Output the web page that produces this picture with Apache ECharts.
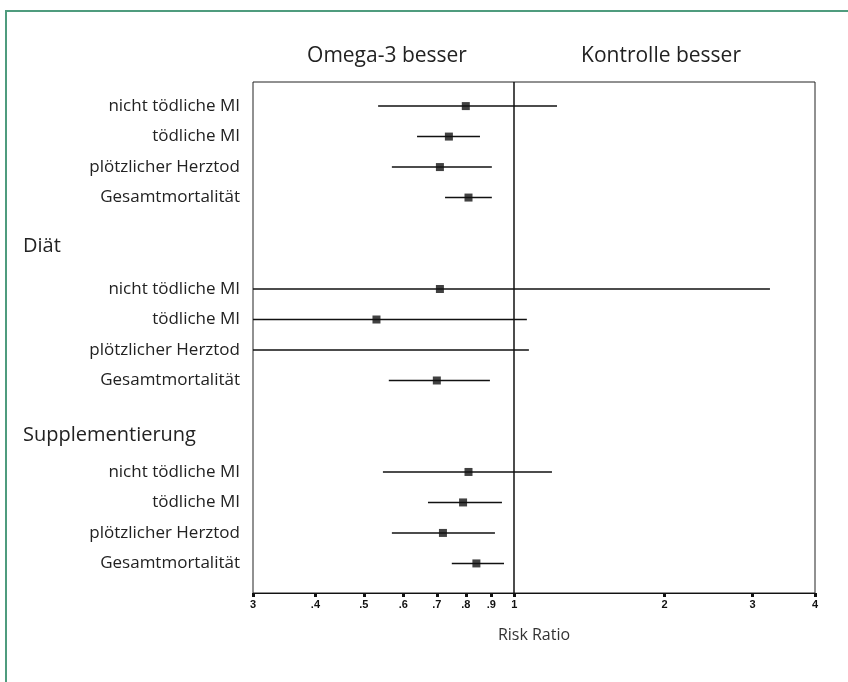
<!DOCTYPE html>
<html>
<head>
<meta charset="utf-8">
<script src="https://cdn.jsdelivr.net/npm/echarts@6/dist/echarts.min.js"></script>
<style>
html,body{margin:0;padding:0;background:#fff;}
#chart{width:848px;height:682px;}
</style>
</head>
<body>
<div id="chart"></div>
<script>
// Row labels and positions (row index from top)
const rowLabels = ["nicht tödliche MI","tödliche MI","plötzlicher Herztod","Gesamtmortalität",
                   "nicht tödliche MI","tödliche MI","plötzlicher Herztod","Gesamtmortalität",
                   "nicht tödliche MI","tödliche MI","plötzlicher Herztod","Gesamtmortalität"];
const rowPos = [0,1,2,3, 6,7,8,9, 12,13,14,15];
// Group headers
const groupLabels = ["Diät","Supplementierung"];
const groupPos = [4.6, 10.8];
// Risk ratio point estimates and confidence limits
const rr = [0.80,0.74,0.71,0.81, 0.71,0.53,null,0.70, 0.81,0.79,0.72,0.84];
const lo = [0.534,0.639,0.569,0.727, 0.30,0.30,0.30,0.561, 0.546,0.672,0.569,0.75];
const hi = [1.218,0.854,0.902,0.902, 3.25,1.06,1.07,0.894, 1.19,0.945,0.915,0.954];
// X axis ticks
const xTicks = [0.3,0.4,0.5,0.6,0.7,0.8,0.9,1,2,3,4];
const xTickLabels = ["3",".4",".5",".6",".7",".8",".9","1","2","3","4"];
// Direction captions above the plot
const captions = ["Omega-3 besser","Kontrolle besser"];

const ciData = rowPos.map((p,i)=>[lo[i],hi[i],p]);
const ptData = rowPos.map((p,i)=> rr[i]==null ? null : [rr[i],p]).filter(d=>d);

const chart = echarts.init(document.getElementById('chart'));
const FONT = '"Open Sans", "Noto Sans", sans-serif';
chart.setOption({
  animation:false,
  backgroundColor:'#fff',
  graphic:[
    {type:'rect', shape:{x:6,y:11,width:900,height:720}, style:{fill:'none',stroke:'#4f9c7e',lineWidth:2}},
    {type:'text', x:387, y:56, style:{text:captions[0], font:'21px '+FONT, fill:'#222', textAlign:'center', textVerticalAlign:'middle'}},
    {type:'text', x:661, y:56, style:{text:captions[1], font:'21px '+FONT, fill:'#222', textAlign:'center', textVerticalAlign:'middle'}}
  ],
  grid:{left:253, right:33, top:82, bottom:89, show:true, borderColor:'#222', borderWidth:1, backgroundColor:'transparent'},
  xAxis:{
    type:'log', min:0.3, max:4, logBase:10,
    axisLine:{onZero:false, lineStyle:{color:'#111',width:1.2}},
    splitLine:{show:false},
    axisTick:{customValues:xTicks, length:4, lineStyle:{color:'#111',width:3}},
    minorTick:{show:false},
    axisLabel:{customValues:xTicks, margin:6, color:'#111', fontSize:11, fontWeight:'bold', fontFamily:'Arial, "Liberation Sans", sans-serif',
      formatter:(v)=>{const i=xTicks.findIndex(t=>Math.abs(t-v)<1e-6);return i>=0?xTickLabels[i]:'';}},
    name:'Risk Ratio', nameLocation:'middle', nameGap:34,
    nameTextStyle:{fontSize:16, color:'#333', fontFamily:FONT}
  },
  yAxis:[{
    type:'value', inverse:true, min:-0.79, max:15.97,
    axisLine:{show:false}, axisTick:{show:false}, splitLine:{show:false},
    axisLabel:{customValues:rowPos, margin:13, color:'#222', fontSize:17, fontFamily:FONT,
      formatter:(v)=>{const i=rowPos.findIndex(t=>Math.abs(t-v)<1e-6);return i>=0?rowLabels[i]:'';}}
  },{
    type:'value', inverse:true, min:-0.79, max:15.97, position:'left',
    axisLine:{show:false}, axisTick:{show:false}, splitLine:{show:false},
    axisLabel:{customValues:groupPos, margin:230, align:'left', color:'#222', fontSize:20, fontFamily:FONT,
      formatter:(v)=>{const i=groupPos.findIndex(t=>Math.abs(t-v)<1e-6);return i>=0?groupLabels[i]:'';}}
  }],
  series:[{
    type:'custom', clip:true, data:ciData, encode:{x:[0,1],y:2},
    renderItem:(params,api)=>{
      const a = api.coord([api.value(0), api.value(2)]);
      const b = api.coord([api.value(1), api.value(2)]);
      return {type:'line', shape:{x1:a[0],y1:a[1],x2:b[0],y2:b[1]}, style:{stroke:'#111',lineWidth:1.5}};
    }
  },{
    type:'scatter', data:ptData, symbol:'rect', symbolSize:8, itemStyle:{color:'#111'},
    markLine:{silent:true, symbol:'none', label:{show:false},
      lineStyle:{color:'#111', type:'solid', width:1.5},
      data:[{xAxis:1}]}
  }]
});
</script>
</body>
</html>
